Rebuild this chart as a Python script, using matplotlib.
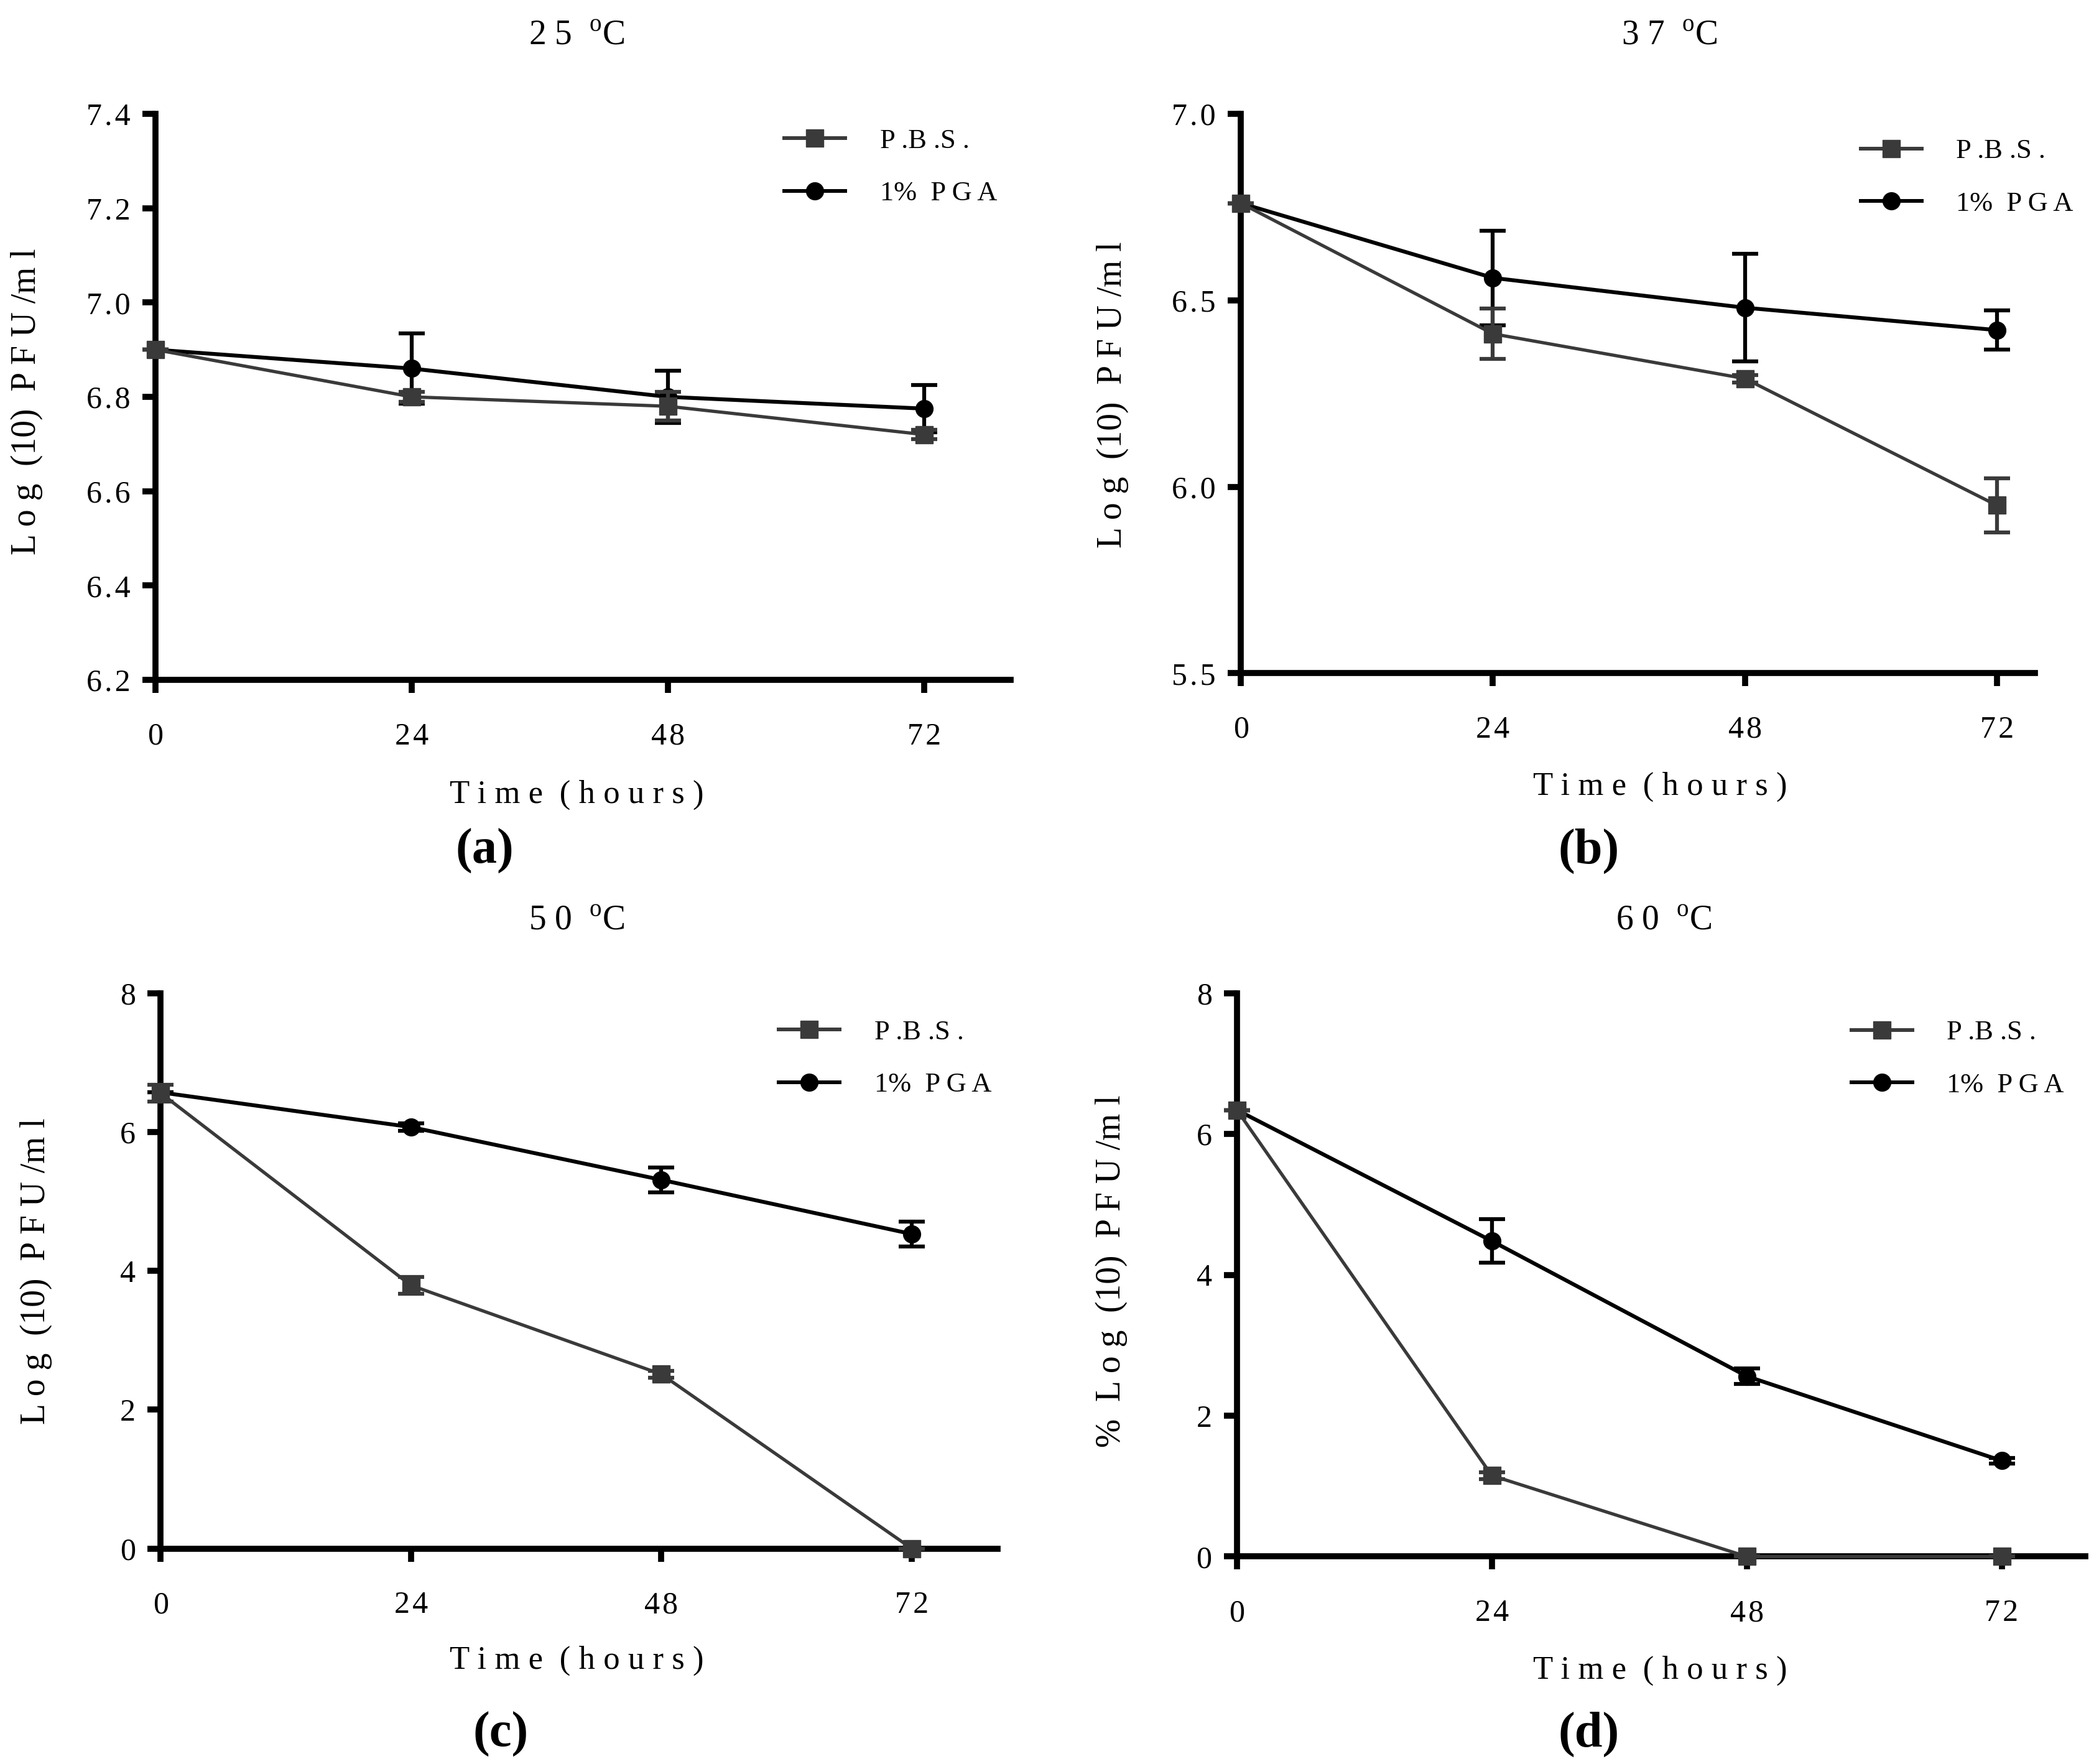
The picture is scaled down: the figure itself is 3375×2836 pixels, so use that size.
import matplotlib
matplotlib.use("Agg")
import matplotlib.pyplot as plt
from matplotlib.lines import Line2D

plt.rcParams['font.family'] = ['Liberation Serif', 'DejaVu Serif']
plt.rcParams['mathtext.fontset'] = 'custom'
plt.rcParams['mathtext.rm'] = 'Liberation Serif'

hours = [0, 24, 48, 72]

pbs_25 = [6.90, 6.80, 6.78, 6.72]
pbs_25_err = [0.0, 0.01, 0.03, 0.01]
pga_25 = [6.90, 6.86, 6.80, 6.775]
pga_25_err = [0.0, 0.075, 0.055, 0.05]

pbs_37 = [6.76, 6.41, 6.29, 5.95]
pbs_37_err = [0.0, 0.067, 0.01, 0.073]
pga_37 = [6.76, 6.56, 6.48, 6.42]
pga_37_err = [0.0, 0.127, 0.144, 0.053]

pbs_50 = [6.56, 3.79, 2.51, 0.0]
pbs_50_err = [0.12, 0.12, 0.05, 0.0]
pga_50 = [6.57, 6.07, 5.31, 4.53]
pga_50_err = [0.0, 0.05, 0.18, 0.18]

pbs_60 = [6.34, 1.15, 0.0, 0.0]
pbs_60_err = [0.0, 0.05, 0.0, 0.0]
pga_60 = [6.34, 4.48, 2.56, 1.36]
pga_60_err = [0.0, 0.31, 0.11, 0.04]

titles = ["2 5  $^{\\mathrm{o}}$C", "3 7  $^{\\mathrm{o}}$C", "5 0  $^{\\mathrm{o}}$C", "6 0  $^{\\mathrm{o}}$C"]
ylabels = ["L o g  (10)  P F U /m l", "L o g  (10)  P F U /m l",
           "L o g  (10)  P F U /m l", "%  L o g  (10)  P F U /m l"]
letters = ["a", "b", "c", "d"]
ylims = [(6.2, 7.4), (5.5, 7.0), (0, 8), (0, 8)]
yticks = [[6.2, 6.4, 6.6, 6.8, 7.0, 7.2, 7.4], [5.5, 6.0, 6.5, 7.0], [0, 2, 4, 6, 8], [0, 2, 4, 6, 8]]
ytick_fmt = ["{:.1f}", "{:.1f}", "{:.0f}", "{:.0f}"]
xmax = [80.1, 75.6, 80.2, 79.9]
legend_anchor = [(0.7355, 0.974), (0.781, 0.955), (0.739, 0.952), (0.724, 0.952)]

W, H = 1568.0, 1318.0
# axes boxes in reference pixel coords: left, right, top, bottom
boxes = [(116, 755, 85, 508), (927, 1520, 85, 503), (120, 745, 742, 1157), (924, 1558, 742, 1163)]
title_pos = [(431, 27), (1247, 27), (431, 688), (1243, 688)]
xlab_pos = [(431, 594), (1240, 588), (431, 1241), (1240, 1248)]
letter_pos = [(362, 636), (1187, 636), (374, 1296), (1187, 1296)]
ylab_pos = [(20, 300), (831, 295), (27, 950), (830, 950)]

series = [
    (pbs_25, pbs_25_err, pga_25, pga_25_err),
    (pbs_37, pbs_37_err, pga_37, pga_37_err),
    (pbs_50, pbs_50_err, pga_50, pga_50_err),
    (pbs_60, pbs_60_err, pga_60, pga_60_err),
]

PBS_COLOR = "#3a3a3a"
HS = "\u200a"  # hair space for the wide letter spacing


def spaced(s):
    return HS.join(s)


fig = plt.figure(figsize=(33.75, 28.36), dpi=100)

for i in range(4):
    l, r, t, b = boxes[i]
    ax = fig.add_axes([l / W, 1 - b / H, (r - l) / W, (b - t) / H])
    pbs, pbs_err, pga, pga_err = series[i]

    ax.errorbar(hours, pga, yerr=pga_err, color="black", lw=4.5, marker="o", ms=20,
                capsize=15, capthick=4.5, elinewidth=4.5, clip_on=False, zorder=3)
    ax.errorbar(hours, pbs, yerr=pbs_err, color=PBS_COLOR, lw=3.8, marker="s", ms=20,
                capsize=15, capthick=4.5, elinewidth=4.5, clip_on=False, zorder=4)

    ax.set_xlim(0, xmax[i])
    ax.set_ylim(*ylims[i])
    ax.set_xticks(hours)
    ax.set_xticklabels([spaced(str(h)) for h in hours])
    ax.set_yticks(yticks[i])
    ax.set_yticklabels([spaced(ytick_fmt[i].format(v)) for v in yticks[i]])

    for s in ["top", "right"]:
        ax.spines[s].set_visible(False)
    for s in ["left", "bottom"]:
        ax.spines[s].set_linewidth(7)
    ax.tick_params(direction="out", length=15, width=7, labelsize=36)
    ax.tick_params(axis="y", pad=14)
    ax.tick_params(axis="x", pad=34)

    handles = [Line2D([], [], color=PBS_COLOR, lw=4.3, marker="s", ms=20),
               Line2D([], [], color="black", lw=4.3, marker="o", ms=20)]
    ax.legend(handles, ["P .B .S .", "1%  P G A"], loc="upper left",
              bbox_to_anchor=legend_anchor[i], frameon=False, fontsize=32,
              handlelength=2.2, handletextpad=1.25, labelspacing=1.0, borderpad=0.0,
              borderaxespad=0.0)

    fig.text(title_pos[i][0] / W, 1 - title_pos[i][1] / H, titles[i], fontsize=40,
             ha="center", va="center")
    fig.text(xlab_pos[i][0] / W, 1 - xlab_pos[i][1] / H, "T i m e  ( h o u r s )", fontsize=38,
             ha="center", va="center")
    fig.text(letter_pos[i][0] / W, 1 - letter_pos[i][1] / H, "(" + letters[i] + ")", fontsize=58,
             fontweight="bold", ha="center", va="center")
    fig.text(ylab_pos[i][0] / W, 1 - ylab_pos[i][1] / H, ylabels[i], fontsize=40,
             rotation=90, ha="center", va="center")

fig.savefig("out.png", dpi=100)
